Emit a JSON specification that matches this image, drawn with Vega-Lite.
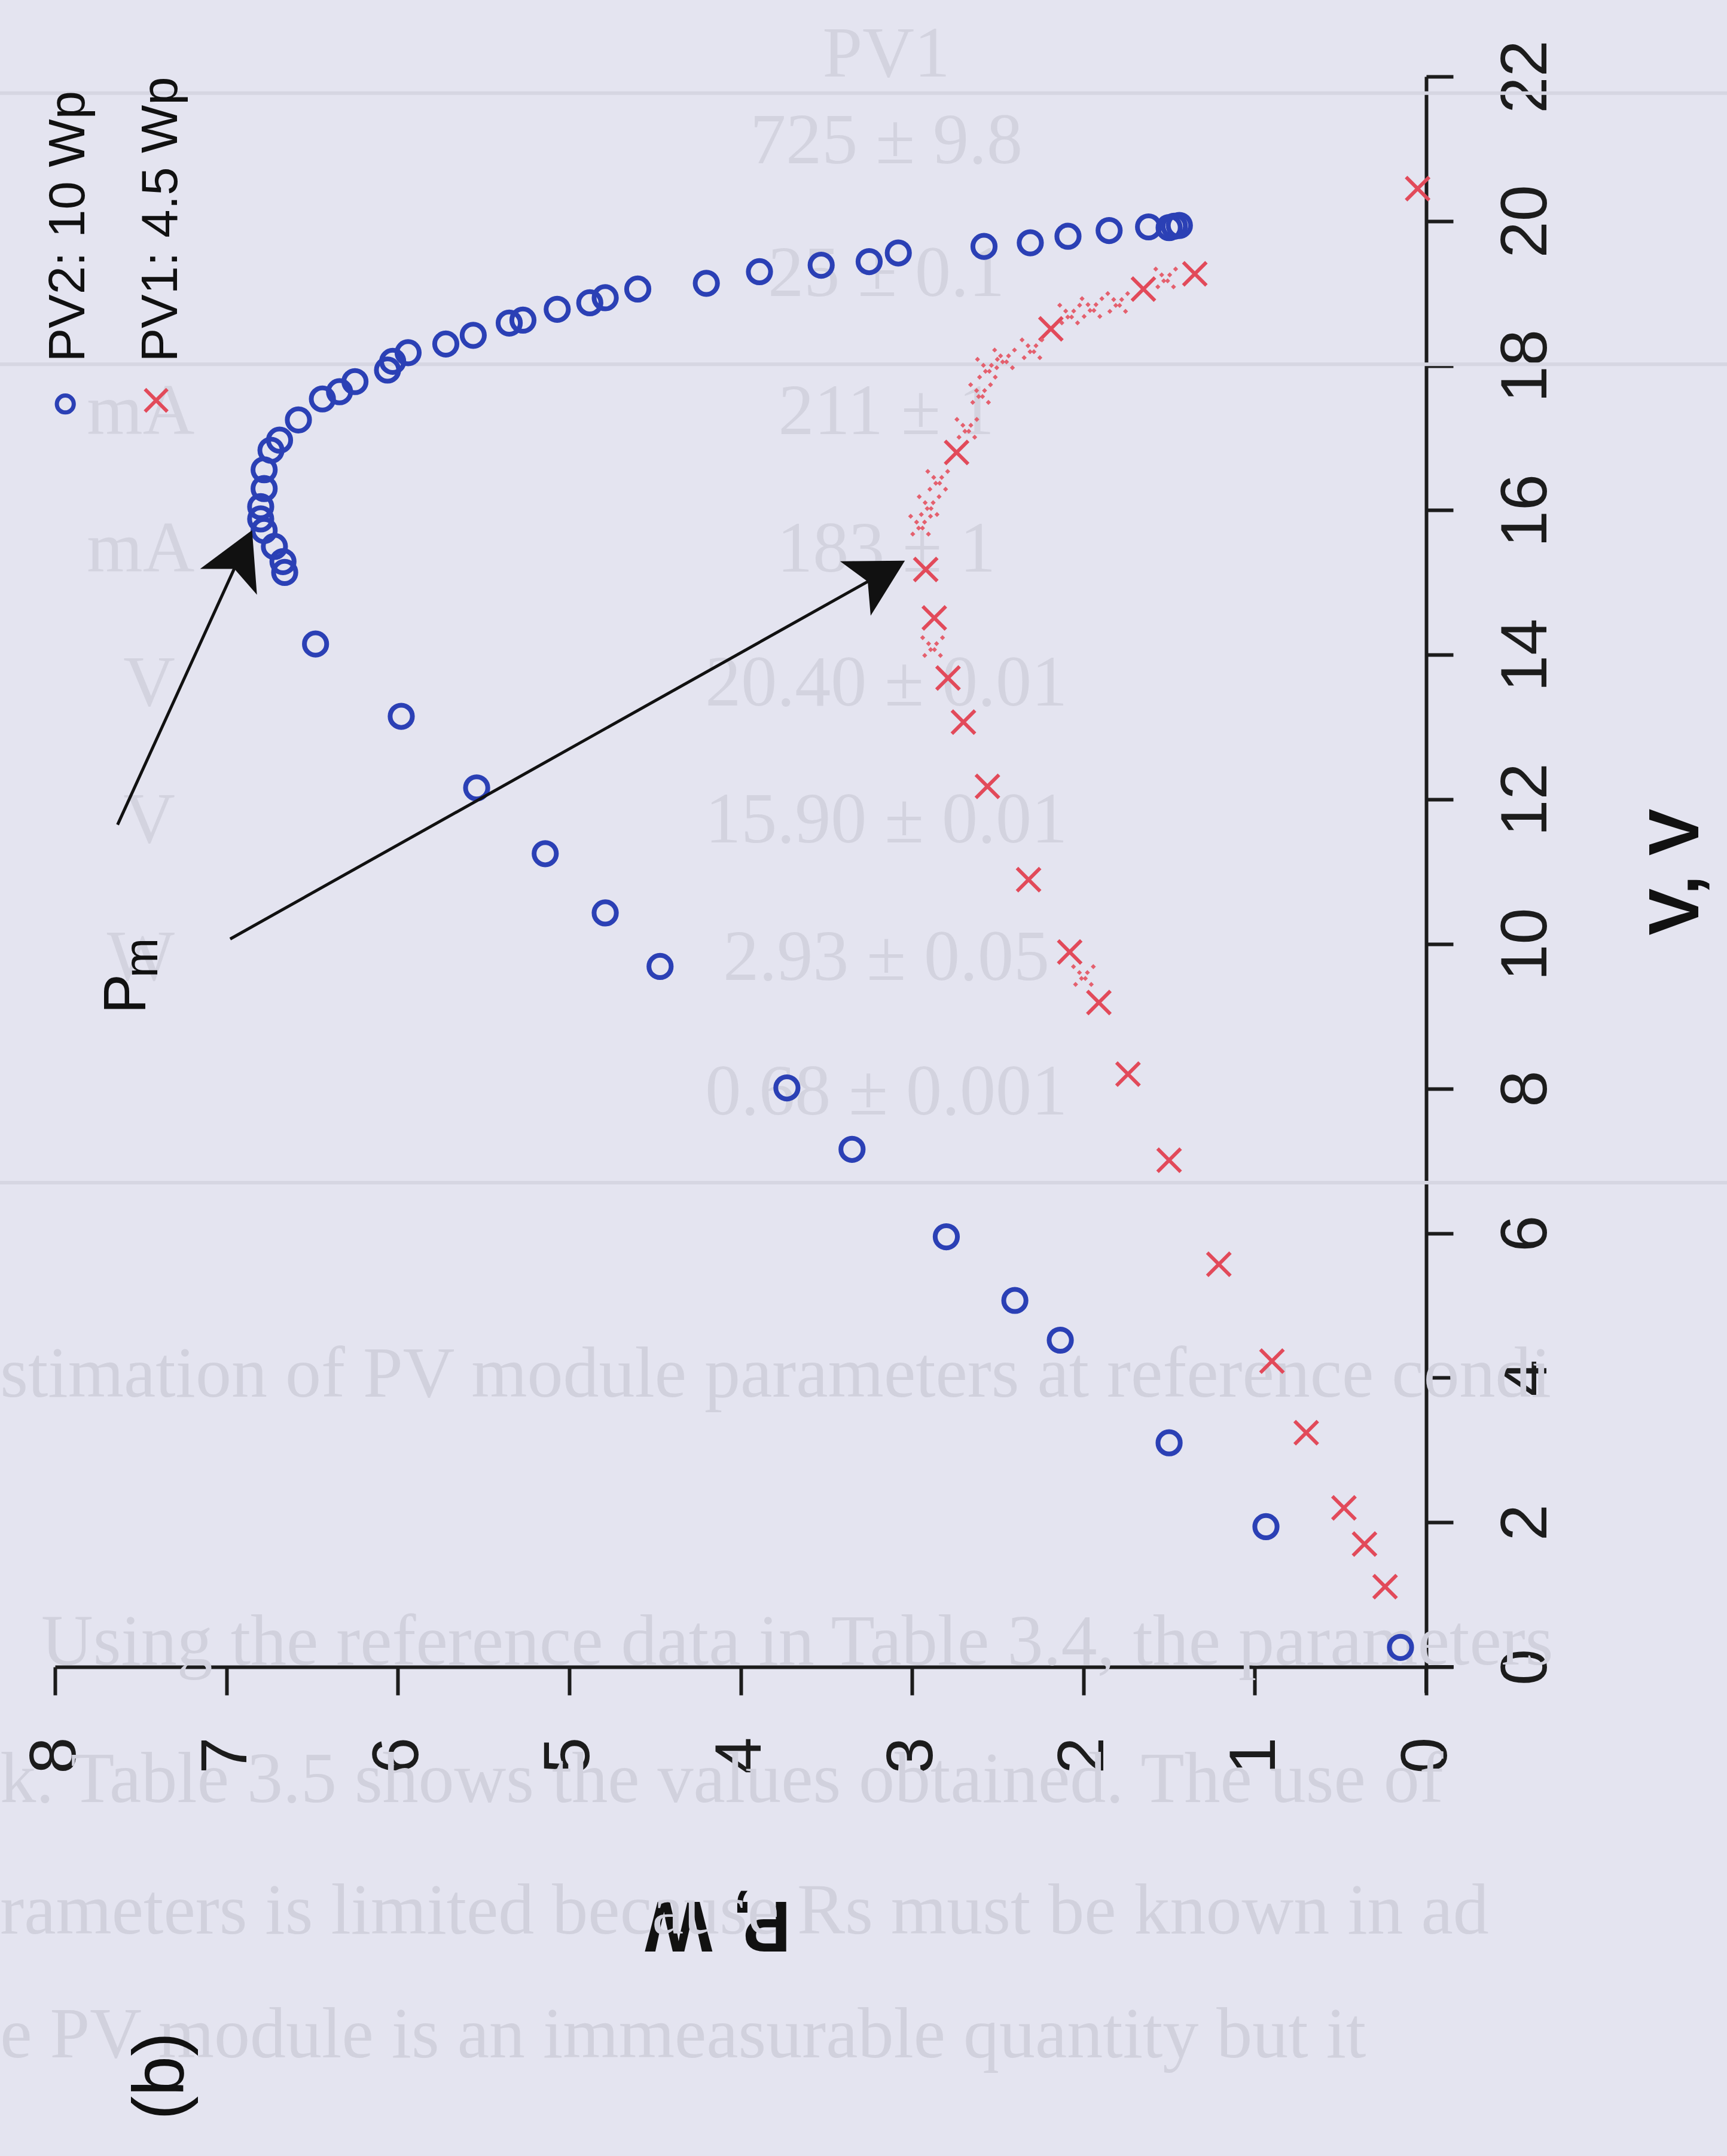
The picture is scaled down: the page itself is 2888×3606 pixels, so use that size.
{
  "$schema": "https://vega.github.io/schema/vega-lite/v6.json",
  "width": 2293,
  "height": 2660,
  "autosize": {"type": "none"},
  "padding": {"left": 92, "top": 128, "right": 503, "bottom": 818},
  "background": "#e4e4f0",
  "config": {"view": {"stroke": null}, "font": "Liberation Sans"},
  "datasets": {
    "pv2": [
      {"P": 0.15, "V": 0.27}, {"P": 0.935, "V": 1.94}, {"P": 1.5, "V": 3.1}, {"P": 2.135, "V": 4.52},
      {"P": 2.4, "V": 5.07}, {"P": 2.8, "V": 5.95}, {"P": 3.35, "V": 7.16}, {"P": 3.73, "V": 8.01},
      {"P": 4.47, "V": 9.69}, {"P": 4.79, "V": 10.43}, {"P": 5.14, "V": 11.25}, {"P": 5.54, "V": 12.16},
      {"P": 5.98, "V": 13.15}, {"P": 6.48, "V": 14.15}, {"P": 6.66, "V": 15.14}, {"P": 6.67, "V": 15.29},
      {"P": 6.72, "V": 15.5}, {"P": 6.78, "V": 15.72}, {"P": 6.8, "V": 15.88}, {"P": 6.8, "V": 16.05},
      {"P": 6.78, "V": 16.3}, {"P": 6.78, "V": 16.56}, {"P": 6.74, "V": 16.83}, {"P": 6.69, "V": 16.97},
      {"P": 6.58, "V": 17.25}, {"P": 6.44, "V": 17.54}, {"P": 6.34, "V": 17.64}, {"P": 6.25, "V": 17.78},
      {"P": 6.06, "V": 17.94}, {"P": 6.03, "V": 18.06}, {"P": 5.94, "V": 18.18}, {"P": 5.72, "V": 18.3},
      {"P": 5.56, "V": 18.42}, {"P": 5.35, "V": 18.59}, {"P": 5.27, "V": 18.63}, {"P": 5.07, "V": 18.78},
      {"P": 4.88, "V": 18.87}, {"P": 4.79, "V": 18.94}, {"P": 4.6, "V": 19.06}, {"P": 4.2, "V": 19.14},
      {"P": 3.89, "V": 19.3}, {"P": 3.53, "V": 19.39}, {"P": 3.25, "V": 19.44}, {"P": 3.08, "V": 19.56},
      {"P": 2.58, "V": 19.65}, {"P": 2.31, "V": 19.7}, {"P": 2.09, "V": 19.79}, {"P": 1.85, "V": 19.87},
      {"P": 1.62, "V": 19.92}, {"P": 1.5, "V": 19.91}, {"P": 1.47, "V": 19.93}, {"P": 1.44, "V": 19.94}
    ],
    "pv1": [
      {"P": 0.05, "V": 20.45}, {"P": 1.35, "V": 19.27}, {"P": 1.65, "V": 19.06}, {"P": 2.19, "V": 18.51},
      {"P": 2.74, "V": 16.8}, {"P": 2.92, "V": 15.18}, {"P": 2.87, "V": 14.51}, {"P": 2.79, "V": 13.68},
      {"P": 2.7, "V": 13.07}, {"P": 2.56, "V": 12.18}, {"P": 2.32, "V": 10.89}, {"P": 2.08, "V": 9.89},
      {"P": 1.91, "V": 9.19}, {"P": 1.74, "V": 8.2}, {"P": 1.5, "V": 7.01}, {"P": 1.21, "V": 5.57},
      {"P": 0.9, "V": 4.23}, {"P": 0.7, "V": 3.24}, {"P": 0.48, "V": 2.2}, {"P": 0.36, "V": 1.7},
      {"P": 0.24, "V": 1.11}
    ],
    "pv1_faint": [
      {"P": 1.52, "V": 19.2}, {"P": 1.8, "V": 18.86}, {"P": 1.95, "V": 18.79}, {"P": 2.08, "V": 18.7},
      {"P": 2.3, "V": 18.22}, {"P": 2.46, "V": 18.08}, {"P": 2.56, "V": 17.95}, {"P": 2.6, "V": 17.6},
      {"P": 2.68, "V": 17.12}, {"P": 2.85, "V": 16.4}, {"P": 2.9, "V": 16.05}, {"P": 2.95, "V": 15.78},
      {"P": 2.88, "V": 14.1}, {"P": 2.0, "V": 9.55}
    ],
    "arrows": [
      {"P": 7.635, "V": 11.65, "P2": 6.92, "V2": 15.37},
      {"P": 6.978, "V": 10.07, "P2": 3.186, "V2": 15.11}
    ],
    "head_blue": [{"P": 6.919, "V": 15.368}],
    "head_red": [{"P": 3.186, "V": 15.11}],
    "axis_ext": [
      {"P": 0, "V": 0, "P2": 0, "V2": -0.36},
      {"P": 0, "V": 0, "P2": -0.16, "V2": 0}
    ],
    "ghost_lines": [
      {"P": 8.4, "P2": -1.8, "V": 21.77},
      {"P": 8.4, "P2": -1.8, "V": 18.02},
      {"P": 8.4, "P2": -1.8, "V": 6.7}
    ],
    "ghost_table": [
      {"P": 3.15, "V": 22.3, "text": "PV1"},
      {"P": 3.15, "V": 21.1, "text": "725 ± 9.8"},
      {"P": 3.15, "V": 19.26, "text": "25 ± 0.1"},
      {"P": 3.15, "V": 17.35, "text": "211 ± 1"},
      {"P": 3.15, "V": 15.45, "text": "183 ± 1"},
      {"P": 3.15, "V": 13.6, "text": "20.40 ± 0.01"},
      {"P": 3.15, "V": 11.7, "text": "15.90 ± 0.01"},
      {"P": 3.15, "V": 9.8, "text": "2.93 ± 0.05"},
      {"P": 3.15, "V": 7.94, "text": "0.68 ± 0.001"},
      {"P": 7.5, "V": 17.35, "text": "mA"},
      {"P": 7.5, "V": 15.45, "text": "mA"},
      {"P": 7.45, "V": 13.6, "text": "V"},
      {"P": 7.45, "V": 11.7, "text": "V"},
      {"P": 7.5, "V": 9.8, "text": "W"}
    ],
    "ghost_body": [
      {"P": 8.32, "V": 4.04, "text": "stimation of PV module parameters at reference condi"},
      {"P": 8.08, "V": 0.33, "text": "Using the reference data in Table 3.4, the parameters"},
      {"P": 8.32, "V": -1.57, "text": "k. Table 3.5 shows the values obtained. The use of"},
      {"P": 8.32, "V": -3.39, "text": "rameters is limited because Rs must be known in ad"},
      {"P": 8.32, "V": -5.1, "text": "e PV module is an immeasurable quantity but it"}
    ],
    "leg_pv2": [{"P": 7.94, "V": 17.47}],
    "leg_pv1": [{"P": 7.41, "V": 17.52}],
    "leg_text": [
      {"P": 7.83, "V": 18.05, "text": "PV2: 10 Wp"},
      {"P": 7.29, "V": 18.05, "text": "PV1: 4.5 Wp"}
    ],
    "pm_p": [{"P": 7.474, "V": 9.31, "text": "P"}],
    "pm_m": [{"P": 7.404, "V": 9.81, "text": "m"}],
    "panel": [{"P": 7.254, "V": -5.66, "text": "(b)"}]
  },
  "encoding": {
    "x": {
      "field": "P", "type": "quantitative",
      "scale": {"domain": [0, 8], "reverse": true, "nice": false, "zero": false},
      "axis": {
        "orient": "bottom", "values": [0, 1, 2, 3, 4, 5, 6, 7, 8], "grid": false,
        "domainColor": "#1c1c1c", "domainWidth": 6, "tickColor": "#1c1c1c", "tickWidth": 6, "tickSize": 47,
        "labelAngle": -90, "labelAlign": "right", "labelBaseline": "middle", "labelPadding": 70,
        "labelFontSize": 110, "labelFont": "Liberation Sans", "labelColor": "#1c1c1c",
        "labelFlush": false, "labelOverlap": false,
        "title": "P, W", "titleAngle": 180, "titleFontSize": 120, "titleFontWeight": "bold",
        "titleFont": "Liberation Sans", "titleColor": "#111111",
        "titleX": 1108, "titleY": 392, "titleAlign": "center", "titleBaseline": "alphabetic"
      }
    },
    "y": {
      "field": "V", "type": "quantitative",
      "scale": {"domain": [0, 22], "nice": false, "zero": false},
      "axis": {
        "orient": "right", "values": [0, 2, 4, 6, 8, 10, 12, 14, 16, 18, 20, 22], "grid": false,
        "domainColor": "#1c1c1c", "domainWidth": 6, "tickColor": "#1c1c1c", "tickWidth": 6, "tickSize": 45,
        "labelAngle": -90, "labelAlign": "center", "labelBaseline": "top", "labelPadding": 68,
        "labelFontSize": 110, "labelFont": "Liberation Sans", "labelColor": "#1c1c1c",
        "labelFlush": false, "labelOverlap": false,
        "title": "V, V", "titleAngle": 270, "titleFontSize": 118, "titleFontWeight": "bold",
        "titleFont": "Liberation Sans", "titleColor": "#111111",
        "titleX": 361, "titleY": 1330, "titleAlign": "center", "titleBaseline": "top"
      }
    }
  },
  "layer": [
    {
      "data": {"name": "ghost_lines"},
      "mark": {"type": "rule", "color": "#d6d6e2", "strokeWidth": 6},
      "encoding": {"x2": {"field": "P2"}}
    },
    {
      "data": {"name": "ghost_table"},
      "mark": {"type": "text", "font": "Liberation Serif", "fontSize": 120, "color": "#d3d3df", "align": "center", "baseline": "middle"},
      "encoding": {"text": {"field": "text"}}
    },
    {
      "data": {"name": "ghost_body"},
      "mark": {"type": "text", "font": "Liberation Serif", "fontSize": 120, "color": "#d1d1dd", "align": "left", "baseline": "middle"},
      "encoding": {"text": {"field": "text"}}
    },
    {
      "data": {"name": "pv2"},
      "mark": {"type": "point", "shape": "circle", "filled": false, "color": "#2b40b5", "strokeWidth": 8, "size": 1385, "opacity": 1}
    },
    {
      "data": {"name": "pv1"},
      "mark": {"type": "point", "shape": "M-1,-1L1,1M1,-1L-1,1", "filled": false, "color": "#e24a5a", "strokeWidth": 6, "size": 1500, "opacity": 1}
    },
    {
      "data": {"name": "pv1_faint"},
      "mark": {"type": "point", "shape": "M-1,-1L1,1M1,-1L-1,1", "filled": false, "color": "#e4606e", "strokeWidth": 6, "size": 1400, "opacity": 1, "strokeDash": [6, 8]}
    },
    {
      "data": {"name": "axis_ext"},
      "mark": {"type": "rule", "color": "#1c1c1c", "strokeWidth": 6},
      "encoding": {"x2": {"field": "P2"}, "y2": {"field": "V2"}}
    },
    {
      "data": {"name": "arrows"},
      "mark": {"type": "rule", "color": "#111111", "strokeWidth": 5},
      "encoding": {"x2": {"field": "P2"}, "y2": {"field": "V2"}}
    },
    {
      "data": {"name": "head_blue"},
      "mark": {"type": "point", "shape": "M0,-1L1.1,1L0,0.5L-1.1,1Z", "filled": true, "color": "#111111", "size": 9025, "angle": 24.5, "opacity": 1}
    },
    {
      "data": {"name": "head_red"},
      "mark": {"type": "point", "shape": "M0,-1L1.1,1L0,0.5L-1.1,1Z", "filled": true, "color": "#111111", "size": 9025, "angle": 60.7, "opacity": 1}
    },
    {
      "data": {"name": "leg_pv2"},
      "mark": {"type": "point", "shape": "circle", "filled": false, "color": "#2b40b5", "strokeWidth": 7, "size": 800, "opacity": 1}
    },
    {
      "data": {"name": "leg_pv1"},
      "mark": {"type": "point", "shape": "M-1,-1L1,1M1,-1L-1,1", "filled": false, "color": "#e24a5a", "strokeWidth": 6, "size": 1400, "opacity": 1}
    },
    {
      "data": {"name": "leg_text"},
      "mark": {"type": "text", "font": "Liberation Sans", "fontSize": 85, "color": "#111111", "align": "left", "baseline": "alphabetic", "angle": 270},
      "encoding": {"text": {"field": "text"}}
    },
    {
      "data": {"name": "pm_p"},
      "mark": {"type": "text", "font": "Liberation Sans", "fontSize": 100, "color": "#111111", "align": "center", "baseline": "alphabetic", "angle": 270},
      "encoding": {"text": {"field": "text"}}
    },
    {
      "data": {"name": "pm_m"},
      "mark": {"type": "text", "font": "Liberation Sans", "fontSize": 80, "color": "#111111", "align": "center", "baseline": "alphabetic", "angle": 270},
      "encoding": {"text": {"field": "text"}}
    },
    {
      "data": {"name": "panel"},
      "mark": {"type": "text", "font": "Liberation Sans", "fontSize": 120, "color": "#111111", "align": "center", "baseline": "alphabetic", "angle": 270},
      "encoding": {"text": {"field": "text"}}
    }
  ]
}
